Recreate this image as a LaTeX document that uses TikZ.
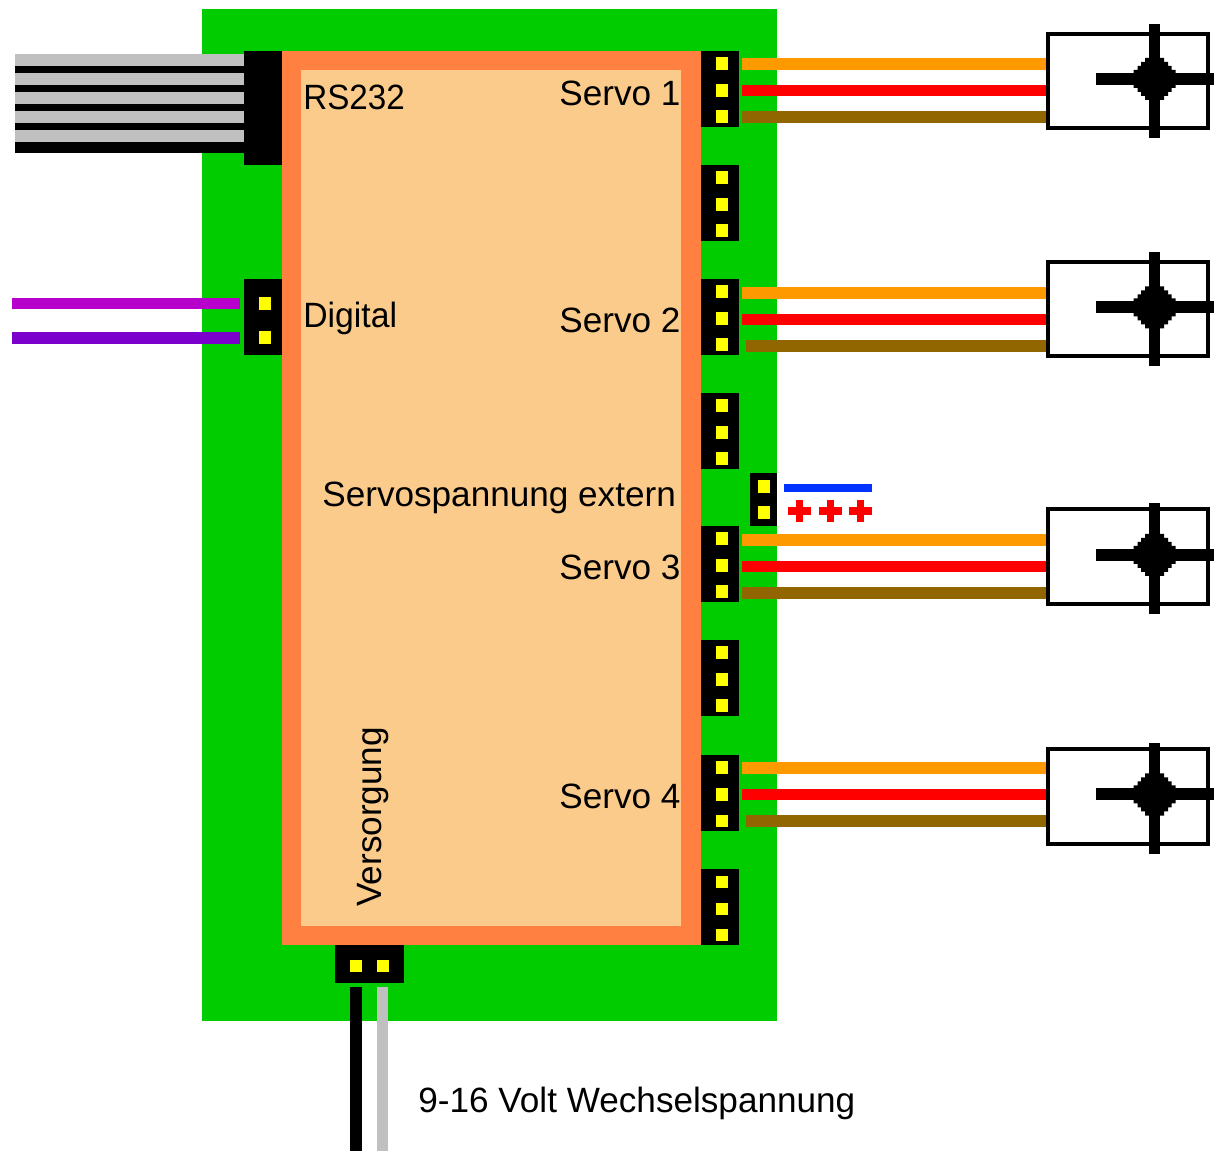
\documentclass[tikz,border=0pt]{standalone}
\usepackage{fontspec}
\setmainfont{Liberation Sans}
\definecolor{boardgreen}{HTML}{00CC00}
\definecolor{chiporange}{HTML}{FF8040}
\definecolor{chipcream}{HTML}{FBCB8B}
\definecolor{pinyellow}{HTML}{FFFF00}
\definecolor{wiregrey}{HTML}{C0C0C0}
\definecolor{wireorange}{HTML}{FF9900}
\definecolor{wirebrown}{HTML}{916600}
\definecolor{wireviolet}{HTML}{B800CC}
\definecolor{wirepurple}{HTML}{7B00CC}
\definecolor{railblue}{HTML}{0033FF}
\tikzset{
	boardlabel/.style={anchor=base west, inner sep=0pt, font=\fontsize{20}{24}\selectfont},
	servoframe/.style={draw=black, line width=0.9mm}
}
\def\pinpad(#1,#2){\fill[pinyellow] ({#1-0.5}, {#2-0.5}) rectangle ({#1+11.5}, {#2+12});}
\def\servoheader(#1){
	\fill[black] (701, #1) rectangle (739, {#1+76});
	\pinpad(716,{#1+7});
	\pinpad(716,{#1+34});
	\pinpad(716,{#1+60});
}
\def\servowires(#1)(#2){
	\fill[wireorange] (742, #1) rectangle (1046, {#1+12});
	\fill[red] (742, {#1+27}) rectangle (1046, {#1+38});
	\fill[wirebrown] (#2, {#1+53}) rectangle (1046, {#1+65});
}
\def\servounit(#1:#2)(#3:#4)(#5){
	\draw[servoframe] (1048, {#1+2}) rectangle (1208, {#2-2});
	\fill[black] (1149, #3) rectangle (1160, #4);
	\fill[black] (1096, {#5-6}) rectangle (1214, {#5+6});
	\begin{scope}[shift={(1154.5, #5)}]
		\fill[black] (-9.5, -21) -- (9.5, -21) -- (9.5, -17) -- (13.5, -17) -- (13.5, -13) -- (17, -13) -- (17, -9) -- (21, -9)
			-- (21, 9) -- (17, 9) -- (17, 13) -- (13.5, 13) -- (13.5, 17) -- (9.5, 17) -- (9.5, 21)
			-- (-9.5, 21) -- (-9.5, 17) -- (-13.5, 17) -- (-13.5, 13) -- (-17, 13) -- (-17, 9) -- (-21, 9)
			-- (-21, -9) -- (-17, -9) -- (-17, -13) -- (-13.5, -13) -- (-13.5, -17) -- (-9.5, -17) -- cycle;
	\end{scope}
}
\def\plussign(#1){
	\fill[red] (#1, 507) rectangle ({#1+23}, 515);
	\fill[red] ({#1+8}, 500) rectangle ({#1+15}, 522);
}

\begin{document}
\begin{tikzpicture}[x=0.02cm, y=-0.02cm]
		%%%%% START %%%%%
		\useasboundingbox (0, 0) rectangle (1214, 1151);
		
		% board and chip
		\fill[boardgreen] (202, 9) rectangle (777, 1021);
		\fill[chiporange] (282, 51) rectangle (701, 945);
		\fill[chipcream] (301, 70) rectangle (681, 926);
		
		% ribbon cable
		\fill[black] (244, 51) rectangle (282, 165);
		\fill[black] (15, 54) rectangle (244, 153);
		\fill[wiregrey] (15, 54) rectangle (244, 66);
		\fill[wiregrey] (15, 73) rectangle (244, 85);
		\fill[wiregrey] (15, 92) rectangle (244, 104);
		\fill[wiregrey] (15, 111) rectangle (244, 123);
		\fill[wiregrey] (15, 130) rectangle (244, 142);
		
		% digital input
		\fill[black] (244, 279) rectangle (282, 355);
		\pinpad(259,298);
		\pinpad(259,332);
		\fill[wireviolet] (12, 298) rectangle (240, 309);
		\fill[wirepurple] (12, 332) rectangle (240, 344);
		
		% servo connectors
		\servoheader(51);
		\servoheader(165);
		\servoheader(279);
		\servoheader(393);
		\servoheader(526);
		\servoheader(640);
		\servoheader(755);
		\servoheader(869);
		
		\servowires(58)(742);
		\servowires(287)(746);
		\servowires(534)(742);
		\servowires(762)(746);
		
		\servounit(32:130)(24:138)(79);
		\servounit(260:358)(252:366)(307.5);
		\servounit(507:606)(503:614)(555);
		\servounit(747:846)(743:854)(794.5);
		
		% external servo supply
		\fill[black] (750, 473) rectangle (777, 526);
		\pinpad(758,481);
		\pinpad(758,507);
		\fill[railblue] (784, 484) rectangle (872, 492);
		\plussign(788);
		\plussign(819);
		\plussign(849);
		
		% power supply
		\fill[black] (335, 945) rectangle (404, 983);
		\pinpad(350,960);
		\pinpad(377,960);
		\fill[black] (350, 987) rectangle (362, 1151);
		\fill[wiregrey] (377, 987) rectangle (388, 1151);
		
		% labels
		\node[boardlabel] (rs232) at (303, 110) {\scalebox{0.945}[1]{RS232}};
		\node[boardlabel] (digital) at (303, 328) {\scalebox{0.96}[1]{Digital}};
		\node[boardlabel] (servoone) at (559, 106) {Servo 1};
		\node[boardlabel] (servotwo) at (559, 333) {Servo 2};
		\node[boardlabel] (servothree) at (559, 580) {Servo 3};
		\node[boardlabel] (servofour) at (559, 808) {Servo 4};
		\node[boardlabel] (external) at (322, 507) {Servospannung extern};
		\node[boardlabel, rotate=90] (supply) at (381, 907) {Versorgung};
		\node[boardlabel] (voltage) at (418, 1112) {9-16 Volt Wechselspannung};
		%%%%% END %%%%%
	\end{tikzpicture}
\end{document}
